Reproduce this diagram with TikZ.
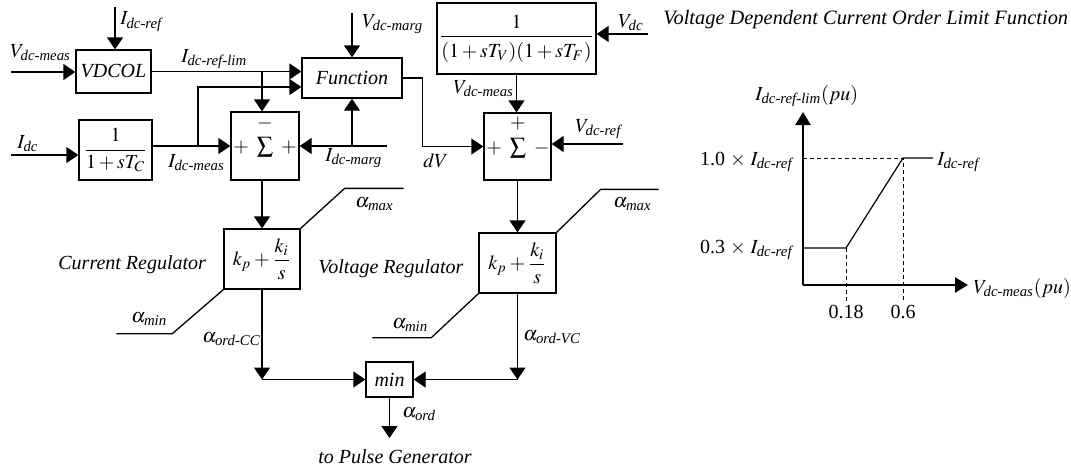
\documentclass[tikz,border=0pt]{standalone}
\usepackage{amsmath}
\usepackage{mathptmx}
\usepackage[no-math]{fontspec}
\setmainfont{Liberation Serif}
\usetikzlibrary{arrows.meta}
\newcommand{\sig}[2]{$#1_{\textit{#2}}$}
\newcommand{\bigsum}{\scalebox{1.15}{$\sum$}}

\begin{document}
\begin{tikzpicture}[x=0.5pt,y=-0.5pt,
	blk/.style={draw,line width=0.65pt,inner sep=0pt},
	sigline/.style={line width=0.65pt},
	sigarrow/.style={line width=0.65pt,-{Triangle[length=6pt,width=8pt]}},
	lbl/.style={anchor=base west,inner sep=0pt},
	axis/.style={line width=1.2pt,-{Triangle[length=6.5pt,width=7.5pt]}}]
	\useasboundingbox (0,0) rectangle (1071,471);

	\node[blk,minimum width=37.5pt,minimum height=21.5pt] (vdcol) at (113.5,71.5) {\textit{VDCOL}};
	\node[blk,minimum width=36.5pt,minimum height=30pt] (filtc) at (115.5,150) {$\dfrac{1}{1+sT_C}$};
	\node[blk,minimum width=34pt,minimum height=34pt] (sumi) at (265,146) {};
	\node[blk,minimum width=50pt,minimum height=20pt] (func) at (352,78) {\textit{Function}};
	\node[blk,minimum width=79.5pt,minimum height=35.5pt] (filtv) at (516.5,38.5) {$\dfrac{1}{\rule{0pt}{9pt}(1+sT_V)(1+sT_F)}$};
	\node[blk,minimum width=33.5pt,minimum height=33.5pt] (sumv) at (517.5,146.5) {};
	\node[blk,minimum width=38pt,minimum height=30pt] (pii) at (262,259) {$k_p+\dfrac{k_i}{s}$};
	\node[blk,minimum width=38.5pt,minimum height=30pt] (piv) at (517.5,263) {$k_p+\dfrac{k_i}{s}$};
	\node[blk,minimum width=23.5pt,minimum height=17.5pt] (minb) at (389.5,379.5) {\textit{min}};

	\node (sumitop) at (265,123) {$-$};
	\node (sumimid) at (265,147) {$+$\hspace{4pt}\bigsum\hspace{4pt}$+$};
	\node (sumvtop) at (518,124) {$+$};
	\node (sumvmid) at (518,148) {$+$\hspace{4pt}\bigsum\hspace{4pt}$-$};

	\coordinate (idcref) at (115,7);
	\coordinate (vdcmeas) at (11,72);
	\coordinate (idc) at (11,155);
	\coordinate (tapc) at (198,146);
	\coordinate (vdcmarg) at (352,13);
	\coordinate (idcmarg) at (387,146);
	\coordinate (vdc) at (648,34);
	\coordinate (vdcref) at (623,144);
	\coordinate (cc) at (pii.south |- minb.west);
	\coordinate (cv) at (piv.south |- minb.east);
	\coordinate (pulse) at (389.5,438);

	\draw[sigarrow] (idcref) -- (idcref |- vdcol.north);
	\draw[sigarrow] (vdcmeas) -- (vdcmeas -| vdcol.west);
	\draw[sigarrow] (vdcol.east) -- (vdcol.east -| func.west);
	\draw[sigarrow] (vdcol.east -| pii.north) -- (pii.north |- sumi.north);
	\draw[sigarrow] (idc) -- (idc -| filtc.west);
	\draw[sigarrow] (filtc.east |- sumi.west) -- (sumi.west);
	\draw[sigarrow] (tapc) |- ([yshift=-4.5pt]func.west);
	\draw[sigarrow] (vdcmarg) -- (func.north);
	\draw[sigarrow] (idcmarg) -- (sumi.east);
	\draw[sigarrow] (func.south |- sumi.east) -- (func.south);
	\draw[sigarrow] (func.east) -- ++(20,0) |- (sumv.west);
	\draw[sigarrow] (vdc) -- (vdc -| filtv.east);
	\draw[sigarrow] (filtv.south) -- (filtv.south |- sumv.north);
	\draw[sigarrow] (vdcref) -- (vdcref -| sumv.east);
	\draw[sigarrow] (pii.north |- sumi.south) -- (pii.north);
	\draw[sigarrow] (sumv.south) -- (piv.north);
	\draw[sigarrow] (pii.south) -- (cc);
	\draw[sigarrow] (cc) -- (minb.west);
	\draw[sigarrow] (piv.south) -- (cv);
	\draw[sigarrow] (cv) -- (minb.east);
	\draw[sigarrow] (minb.south) -- (pulse);

	\foreach \c/\dx/\dy/\l in {pii.north east/44/-40/59,pii.south west/-51/44/-56,piv.north east/44/-43/58,piv.south west/-47/44/-59}
		\draw[sigline] (\c) -- ++(\dx,\dy) -- ++(\l,0);

	\node[lbl] (lidcref) at (120,25) {\sig{I}{dc-ref}};
	\node[lbl] (lvdcmeas) at (10,57) {\sig{V}{dc-meas}};
	\node[lbl] (lidcreflim) at (181,62) {\sig{I}{dc-ref-lim}};
	\node[lbl] (lidc) at (17,148) {\sig{I}{dc}};
	\node[lbl] (lidcmeas) at (168,167) {\sig{I}{dc-meas}};
	\node[lbl] (lvdcmarg) at (362,27) {\sig{V}{dc-marg}};
	\node[lbl] (lidcmarg) at (325,161) {\sig{I}{dc-marg}};
	\node[lbl] (ldv) at (423,167) {$dV$};
	\node[lbl] (lvdc) at (618,27) {\sig{V}{dc}};
	\node[lbl] (lvdcmeasv) at (453,93) {\sig{V}{dc-meas}};
	\node[lbl] (lvdcref) at (575,132) {\sig{V}{dc-ref}};
	\node[lbl] (lamaxi) at (355,207) {\sig{\alpha}{max}};
	\node[lbl] (lamini) at (131,322) {\sig{\alpha}{min}};
	\node[lbl] (lacc) at (202,342) {\sig{\alpha}{ord-CC}};
	\node[lbl] (lamaxv) at (613,207) {\sig{\alpha}{max}};
	\node[lbl] (laminv) at (392,328) {\sig{\alpha}{min}};
	\node[lbl] (lavc) at (523,340) {\sig{\alpha}{ord-VC}};
	\node[lbl] (laord) at (402,417) {\sig{\alpha}{ord}};
	\node[lbl] (lpulse) at (318,463) {\textit{to Pulse Generator}};
	\node[lbl] (lcreg) at (58,269) {\textit{Current Regulator}};
	\node[lbl] (lvreg) at (318,273) {\textit{Voltage Regulator}};
	\node[lbl,font=\fontsize{10.2}{12}\selectfont] (ltitle) at (663,25) {\textit{Voltage Dependent Current Order Limit Function}};

	\coordinate (o) at (803,285);
	\draw[axis] (o) -- (803,112);
	\draw[axis] (o) -- (968,285);
	\draw[line width=0.6pt] (803,248) -- (846,248) -- (903,158) -- (933,158);
	\draw[line width=0.5pt,dash pattern=on 2pt off 1.5pt] (803,158) -- (903,158) -- (903,302) (846,248) -- (846,302);
	\node[lbl] (lyaxis) at (755,100) {\sig{I}{dc-ref-lim}$(pu)$};
	\node[lbl] (lxaxis) at (973,293) {\sig{V}{dc-meas}$(pu)$};
	\node[lbl,anchor=base east] (lhi) at (793,165) {1.0 $\times$ \sig{I}{dc-ref}};
	\node[lbl,anchor=base east] (llo) at (793,253) {0.3 $\times$ \sig{I}{dc-ref}};
	\node[lbl] (lsat) at (937,165) {\sig{I}{dc-ref}};
	\node[lbl,anchor=base] (lv1) at (846,318) {0.18};
	\node[lbl,anchor=base] (lv2) at (903,318) {0.6};
\end{tikzpicture}
\end{document}
